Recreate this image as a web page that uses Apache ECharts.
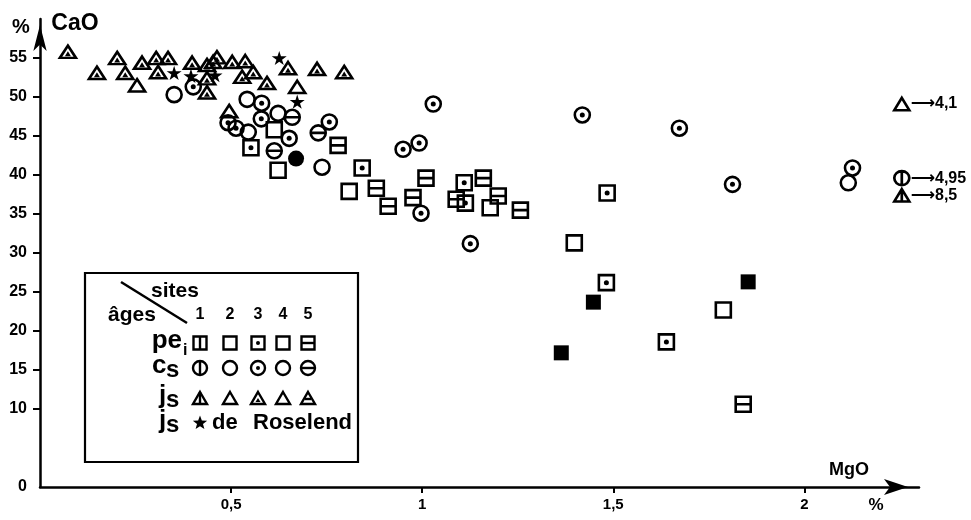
<!DOCTYPE html>
<html><head><meta charset="utf-8">
<script src="https://cdn.jsdelivr.net/npm/echarts/dist/echarts.min.js"></script>
<style>html,body{margin:0;padding:0;background:#fff}#c{width:971px;height:520px}</style>
</head><body><div id="c"></div>
<script>
// ---- data: [MgO %, CaO %] ----
const triDot = [[0.073,55.8],[0.149,53.1],[0.202,55.0],[0.223,53.1],[0.267,54.4],[0.304,55.0],[0.309,53.2],[0.335,55.0],[0.398,54.4],[0.437,54.1],[0.437,52.4],[0.437,50.6],[0.453,54.5],[0.463,55.1],[0.503,54.5],[0.537,54.6],[0.529,52.6],[0.558,53.2],[0.594,51.8],[0.649,53.7],[0.725,53.6],[0.796,53.2]];
const triPlain = [[0.254,51.5],[0.673,51.3],[0.495,48.2]];
const starRoselend = [[0.351,53.1],[0.395,52.7],[0.458,52.8],[0.626,55.0],[0.673,49.4]];
const circPlain = [[0.351,50.3],[0.542,49.7],[0.545,45.5],[0.623,47.9],[0.738,41.0],[2.115,39.0]];
const circDot = [[0.401,51.3],[0.492,46.7],[0.513,46.0],[0.58,49.2],[0.579,47.2],[0.652,44.7],[0.757,46.8],[0.95,43.3],[0.992,44.1],[1.029,49.1],[0.997,35.1],[1.126,31.2],[1.419,47.7],[1.673,46.0],[1.812,38.8],[2.126,40.9]];
const circBar = [[0.66,47.4],[0.613,43.1],[0.728,45.4]];
const circFilled = [[0.67,42.1]];
const sqPlain = [[0.613,45.8],[0.623,40.6],[0.809,37.9],[1.178,35.8],[1.398,31.3],[1.788,22.7]];
const sqDot = [[0.552,43.5],[0.843,40.9],[1.11,39.0],[1.113,36.4],[1.484,37.7],[1.482,26.2],[1.639,18.6]];
const sqBar = [[0.78,43.8],[0.88,38.3],[0.911,36.0],[0.976,37.1],[1.01,39.6],[1.089,36.9],[1.16,39.6],[1.199,37.3],[1.257,35.5],[1.84,10.6]];
const sqFilled = [[1.448,23.7],[1.364,17.2],[1.853,26.3]];
// off-scale samples (true MgO beyond the axis)
const offMgO = [4.1, 4.95, 8.5];
const offCaO = [49.1, 39.6, 37.4];
const offText = ['4,1', '4,95', '8,5'];
const yLabels = [0,10,15,20,25,30,35,40,45,50,55];
const yTicks = [10,15,20,25,30,35,40,45,50,55];
const xLabels = [0.5,1,1.5,2];

// ---- symbols ----
const SQ = 'M0,0H16V16H0Z';
const SQ_H = 'M0,0H16V16H0Z M0,8H16';
const CI_H = 'M0,8A8,8 0 1 1 16,8A8,8 0 1 1 0,8Z M0,8H16';
const CI_V = 'M0,8A8,8 0 1 1 16,8A8,8 0 1 1 0,8Z M8,0V16';
const TRI = 'M8,0L16,14H0Z';
const TRI_V = 'M8,0L16,14H0Z M8,0V14';
const STAR = 'M50,0L61,35H98L68,57L79,91L50,70L21,91L32,57L2,35H39Z';
const FONT = '"Liberation Sans", Arial, sans-serif';
const CLIP = 2.255;

function outline(data, symbol, size) {
  return {type:'scatter', data, symbol, symbolSize:size, symbolKeepAspect:true,
    itemStyle:{color:'rgba(0,0,0,0)', borderColor:'#000', borderWidth:2.6, opacity:1},
    silent:true, z:2, animation:false};
}
function filled(data, symbol, size, offset) {
  return {type:'scatter', data, symbol, symbolSize:size, symbolOffset:offset||[0,0], symbolKeepAspect:true,
    itemStyle:{color:'#000', opacity:1}, silent:true, z:3, animation:false};
}

const offSymbols = ['path://'+TRI, 'path://'+CI_V, 'path://'+TRI_V];
const offData = offMgO.map((m,i)=>({
  value:[Math.min(m, CLIP), offCaO[i]],
  symbol: offSymbols[i],
  label:{show:true, position:'right', distance:0, formatter:'{a|⟶}{b|'+offText[i]+'}',
    rich:{a:{fontSize:17, fontWeight:'bold', fontFamily:'"DejaVu Sans"', color:'#000'},
          b:{fontSize:16, fontWeight:'bold', fontFamily:FONT, color:'#000'}}}
}));

const series = [
  outline(triDot, 'path://'+TRI, [16,14]),
  filled(triDot, 'triangle', [6,5], [0,2]),
  outline(triPlain, 'path://'+TRI, [16,14]),
  filled(starRoselend, 'path://'+STAR, 15),
  outline(circPlain, 'circle', 15),
  outline(circDot, 'circle', 15),
  filled(circDot, 'circle', 5),
  outline(circBar, 'path://'+CI_H, 15),
  filled(circFilled, 'circle', 16),
  outline(sqPlain, 'path://'+SQ, 15),
  outline(sqDot, 'path://'+SQ, 15),
  filled(sqDot, 'circle', 5),
  outline(sqBar, 'path://'+SQ_H, 15),
  filled(sqFilled, 'rect', 15),
  outline(offData, 'circle', [15,14])
];

// ---- legend drawn as graphics ----
const LX = [200,230,258,283,308];
const RY = [343,368,398,423];
const g = [];
const ST = {fill:'none', stroke:'#000', lineWidth:2.4};
function gRect(cx, cy, s) { g.push({type:'rect', shape:{x:cx-s/2, y:cy-s/2, width:s, height:s}, style:ST}); }
function gCirc(cx, cy, r) { g.push({type:'circle', shape:{cx, cy, r}, style:ST}); }
function gLine(x1,y1,x2,y2,w) { g.push({type:'line', shape:{x1,y1,x2,y2}, style:{stroke:'#000', lineWidth:w||2.4}}); }
function gTri(cx, cy, w, h, fill) {
  g.push({type:'polygon', shape:{points:[[cx, cy-h/2],[cx+w/2, cy+h/2],[cx-w/2, cy+h/2]]},
    style: fill ? {fill:'#000'} : ST});
}
function gDot(cx, cy, r) { g.push({type:'circle', shape:{cx, cy, r}, style:{fill:'#000'}}); }
function gText(t, x, y, size, align) {
  g.push({type:'text', x, y, style:{text:t, font:'bold '+size+'px '+FONT, fill:'#000',
    textAlign:align||'center', textVerticalAlign:'middle'}});
}
function gStar(cx, cy, r) {
  const pts = [];
  for (let k = 0; k < 10; k++) {
    const a = -Math.PI/2 + k*Math.PI/5, rr = k%2 ? r*0.42 : r;
    pts.push([cx + rr*Math.cos(a), cy + rr*Math.sin(a)]);
  }
  g.push({type:'polygon', shape:{points:pts}, style:{fill:'#000'}});
}

g.push({type:'rect', shape:{x:85,y:273,width:273,height:189}, style:{fill:'#fff', stroke:'#000', lineWidth:2.2}});
gLine(121,282,187,323,2.5);
gText('sites', 175, 291, 21);
gText('âges', 132, 315, 21);
['1','2','3','4','5'].forEach((t,i)=>gText(t, LX[i], 315, 16));
gText('pe', 182, 341, 26, 'right'); gText('i', 183, 351, 16, 'left');
gText('c', 152, 366, 26, 'left'); gText('s', 166, 370, 24, 'left');
gText('j', 159, 396, 26, 'left'); gText('s', 166, 400, 24, 'left');
gText('j', 159, 421, 26, 'left'); gText('s', 166, 425, 24, 'left');
// pe_i row
const s = 13, y0 = RY[0];
gRect(LX[0], y0, s); gLine(LX[0], y0-s/2, LX[0], y0+s/2);
gRect(LX[1], y0, s);
gRect(LX[2], y0, s); gDot(LX[2], y0, 2);
gRect(LX[3], y0, s);
gRect(LX[4], y0, s); gLine(LX[4]-s/2, y0, LX[4]+s/2, y0);
// cs row
const r = 7, y1 = RY[1];
gCirc(LX[0], y1, r); gLine(LX[0], y1-r, LX[0], y1+r);
gCirc(LX[1], y1, r);
gCirc(LX[2], y1, r); gDot(LX[2], y1, 2);
gCirc(LX[3], y1, r);
gCirc(LX[4], y1, r); gLine(LX[4]-r, y1, LX[4]+r, y1);
// js row
const y2 = RY[2];
gTri(LX[0], y2, 14, 12); gLine(LX[0], y2-6, LX[0], y2+6);
gTri(LX[1], y2, 14, 12);
gTri(LX[2], y2, 14, 12); gTri(LX[2], y2+2, 5, 4, true);
gTri(LX[3], y2, 14, 12);
gTri(LX[4], y2, 14, 12); gLine(LX[4]-3, y2+1, LX[4]+3, y2+1);
// Roselend row
gStar(LX[0], RY[3], 7.5);
gText('de', 212, 423, 22, 'left');
gText('Roselend', 253, 423, 22, 'left');
// axis titles
gText('%', 21, 27, 20);
gText('CaO', 75, 24, 23);
gText('MgO', 849, 470, 18);
gText('%', 876, 505, 17);

const chart = echarts.init(document.getElementById('c'), null, {renderer:'canvas'});
chart.setOption({
  animation:false,
  backgroundColor:'#fff',
  grid:{left:40, right:52, top:19, bottom:33, containLabel:false},
  xAxis:{type:'value', min:0, max:2.3,
    axisLine:{show:true, onZero:false, lineStyle:{color:'#000', width:2.5}, symbol:['none','arrow'], symbolSize:[12,24], symbolOffset:[0,-11]},
    axisTick:{show:true, length:6, lineStyle:{color:'#000', width:2}, customValues:xLabels},
    axisLabel:{customValues:xLabels, margin:10, color:'#000', fontFamily:FONT, fontWeight:'bold', fontSize:15,
      formatter:v=>String(v).replace('.',',')},
    splitLine:{show:false}},
  yAxis:{type:'value', min:0, max:60,
    axisLine:{show:true, onZero:false, lineStyle:{color:'#000', width:2.5}, symbol:['none','arrow'], symbolSize:[10,26], symbolOffset:[0,-6]},
    axisTick:{show:true, length:7, lineStyle:{color:'#000', width:2}, customValues:yTicks},
    axisLabel:{customValues:yLabels, margin:13, color:'#000', fontFamily:FONT, fontWeight:'bold', fontSize:16},
    splitLine:{show:false}},
  series,
  graphic:{elements:g}
});
</script></body></html>
